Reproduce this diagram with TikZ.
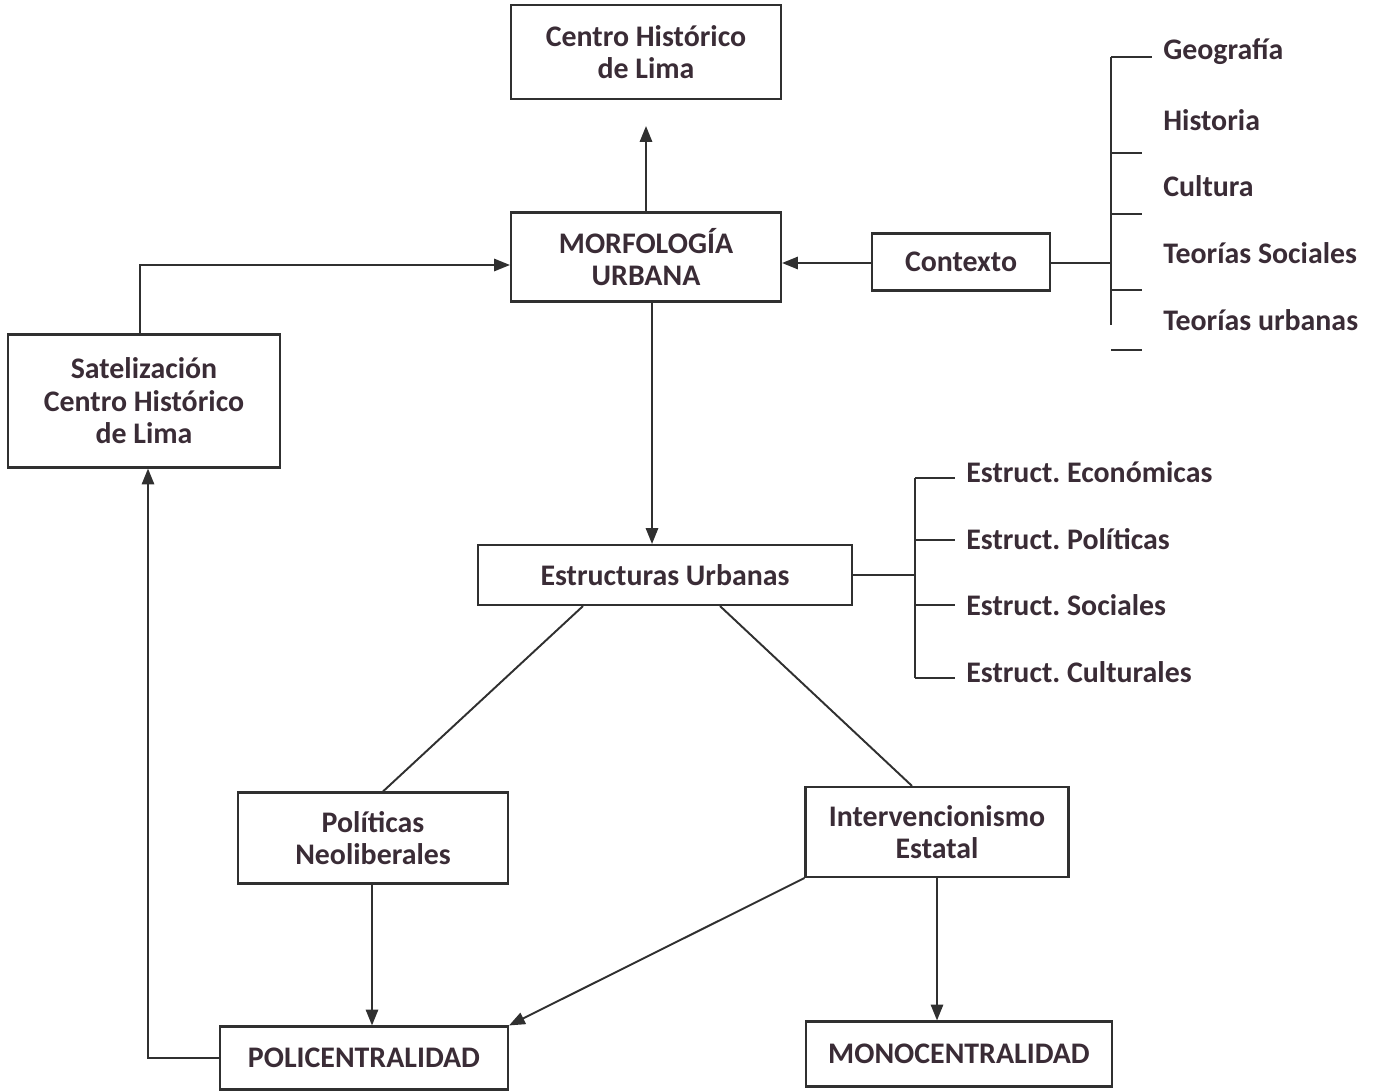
\documentclass[tikz,border=0pt]{standalone}
\usepackage{fontspec}
\setmainfont{Carlito}
\usetikzlibrary{arrows.meta,calc,positioning}
\definecolor{ink}{HTML}{3A2C36}
\definecolor{linec}{HTML}{303030}
\tikzset{
  box/.style={draw=linec, line width=1.2pt, align=center, text=ink,
    font=\fontsize{17}{18.5}\selectfont\bfseries\frenchspacing, inner sep=0pt},
  arr/.style={draw=linec, line width=1.1pt, -{Triangle[length=9pt,width=7pt]}},
  ln/.style={draw=linec, line width=1.1pt},
  item/.style={anchor=west, text=ink, font=\fontsize{17}{18.5}\selectfont\bfseries\frenchspacing, inner sep=0pt}
}
\begin{document}
\begin{tikzpicture}[x=0.02cm,y=-0.02cm]
    \useasboundingbox (0,0) rectangle (1375,1091);

    % Boxes
    \node[box, minimum width=270*0.02cm, minimum height=94*0.02cm] (centro) at (646,52) {Centro Histórico\\de Lima};
    \node[box, minimum width=270*0.02cm, minimum height=89*0.02cm] (morf) at (646,257) {MORFOLOGÍA\\URBANA};
    \node[box, minimum width=178*0.02cm, minimum height=57*0.02cm] (contexto) at (961,262) {Contexto};
    \node[box, minimum width=272*0.02cm, minimum height=133*0.02cm] (satel) at (144,401) {Satelización\\Centro Histórico\\de Lima};
    \node[box, minimum width=374*0.02cm, minimum height=60*0.02cm] (estruct) at (665,575) {Estructuras Urbanas};
    \node[box, minimum width=270*0.02cm, minimum height=91*0.02cm] (politicas) at (373,838) {Políticas\\Neoliberales};
    \node[box, minimum width=263*0.02cm, minimum height=90*0.02cm] (interv) at (937,832) {Intervencionismo\\Estatal};
    \node[box, minimum width=288*0.02cm, minimum height=63*0.02cm] (poli) at (364,1058) {POLICENTRALIDAD};
    \node[box, minimum width=306*0.02cm, minimum height=65*0.02cm] (mono) at (959,1054) {MONOCENTRALIDAD};

    % Context bracket
    \coordinate (cx) at (1111,263);
    \draw[ln] (contexto.east |- cx) -- (cx);
    \draw[ln] (1111,57) -- (1111,325);
    \draw[ln] (1111,57) -- (1152,57);
    \foreach \y in {153,214,290,350} {
        \draw[ln] (1111,\y) -- (1142,\y);
    }
    \foreach \t/\y in {Geografía/52, Historia/120, Cultura/186, Teorías Sociales/253, Teorías urbanas/320} {
        \node[item] at (1163,\y) {\t};
    }

    % Structures bracket
    \coordinate (ex) at (915,575);
    \draw[ln] (estruct.east) -- (ex);
    \draw[ln] (915,478) -- (915,678);
    \foreach \y in {478,540,605,678} {
        \draw[ln] (915,\y) -- (955,\y);
    }
    \foreach \t/\y in {Estruct. Económicas/472, Estruct. Políticas/539, Estruct. Sociales/605, Estruct. Culturales/672} {
        \node[item] at (966,\y) {\t};
    }

    % Arrows
    \draw[arr, shorten >=26*0.02cm] (morf.north) -- (centro.south);
    \draw[arr] (contexto.west |- cx) -- (morf.east |- cx);
    \draw[arr] (satel.north -| 140,0) |- ($(morf.west)+(0,8)$);
    \draw[arr] (morf.south -| 652,0) -- (estruct.north -| 652,0);
    \draw[ln] ($(estruct.south)+(-82,0)$) -- ($(politicas.north)+(10,0)$);
    \draw[ln] ($(estruct.south)+(55,0)$) -- ($(interv.north)+(-25,0)$);
    \draw[arr] (politicas.south -| 372,0) -- (poli.north -| 372,0);
    \draw[arr] (interv.south west) -- (poli.north east);
    \draw[arr] (interv.south -| 937,0) -- (mono.north -| 937,0);
    \draw[arr] (poli.west) -| (satel.south -| 148,0);
\end{tikzpicture}
\end{document}
